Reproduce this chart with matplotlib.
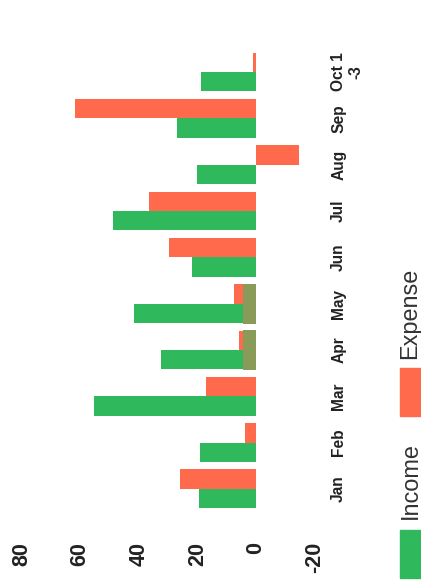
import matplotlib
matplotlib.use('Agg')
import matplotlib.pyplot as plt
from matplotlib.patches import Rectangle
import numpy as np

plt.rcParams['font.family'] = ['Liberation Sans', 'DejaVu Sans']

months = ['Jan', 'Feb', 'Mar', 'Apr', 'May', 'Jun', 'Jul', 'Aug', 'Sep', 'Oct 1\n-3']
income = [19.5, 19, 55.3, 32.4, 41.6, 22, 48.8, 20, 27, 18.8]
expense = [26, 3.8, 17, 5.8, 7.5, 29.7, 36.5, -14.7, 61.8, 1]
overlap = [0, 0, 0, 4.4, 4.4, 0, 0, 0, 0, 0]
value_ticks = [80, 60, 40, 20, 0, -20]
legend_labels = ['Income', 'Expense']

GREEN = '#2fb95c'
ORANGE = '#ff6a4d'
OLIVE = '#8a9a58'

W, H = 421, 583
fig = plt.figure(figsize=(W / 100, H / 100), dpi=100)

# axes pixel box (from top-left)
left, right, top, bottom = 10, 320, 40, 520
ax = fig.add_axes([left / W, (H - bottom) / H, (right - left) / W, (bottom - top) / H])

idx = np.arange(len(months))
bh = 0.42
ax.barh(idx - 0.21, income, height=bh, color=GREEN, zorder=2)
ax.barh(idx + 0.21, expense, height=bh, color=ORANGE, zorder=2)
ax.barh(idx, overlap, height=0.86, color=OLIVE, zorder=3)

ax.set_xlim(83.96, -21.84)
ax.set_ylim(-0.67, 9.69)

for s in ax.spines.values():
    s.set_visible(False)

ax.set_xticks(value_ticks)
ax.set_xticklabels([str(v) for v in value_ticks], rotation=90, fontsize=15.5,
                   fontweight='bold', color='#222222')
ax.tick_params(axis='x', length=0, pad=16)

ax.yaxis.tick_right()
ax.set_yticks(idx)
ax.set_yticklabels(months, rotation=90, fontsize=11.2, fontweight='bold',
                   color='#222222', va='center', multialignment='center')
ax.tick_params(axis='y', length=0, pad=8)

# legend (rotated, drawn in figure pixel coordinates)
def fx(px):
    return px / W

def fy(py):
    return (H - py) / H

legend_colors = [GREEN, ORANGE]
sw_top = [530, 368]
text_center = [481, 313]
for lab, col, st, tc in zip(legend_labels, legend_colors, sw_top, text_center):
    fig.patches.append(Rectangle((fx(400), fy(st + 48)), fx(421) - fx(400),
                                 fy(st) - fy(st + 48), transform=fig.transFigure,
                                 color=col, figure=fig))
    fig.text(fx(410), fy(tc), lab, rotation=90, fontsize=16.9, color='#333333',
             ha='center', va='center')

fig.savefig('out.png', dpi=100, facecolor='white')
